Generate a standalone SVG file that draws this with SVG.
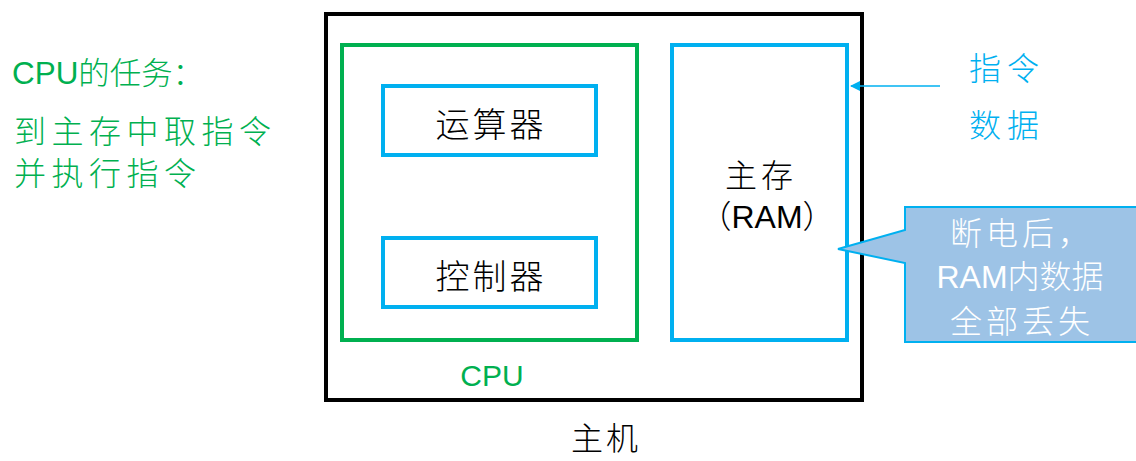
<svg xmlns="http://www.w3.org/2000/svg" width="1136" height="461" viewBox="0 0 1136 461">
<defs>
<style>
.t{font-family:"Liberation Sans","Noto Sans CJK SC",sans-serif;font-weight:300}
.g{fill:#00B050}
.b{fill:#00B0F0}
.k{fill:#000}
.w{fill:#fff}
.box{fill:none;stroke:#00B0F0;stroke-width:4}
</style>
<marker id="arr" markerWidth="10" markerHeight="10" refX="9" refY="5" orient="auto" markerUnits="userSpaceOnUse"><path d="M0,0 L10,5 L0,10 z" fill="#00B0F0"/></marker>
</defs>
<rect width="1136" height="461" fill="#fff"/>
<g id="task-text" class="t g">
<text x="12" y="84" font-size="31" textLength="192" lengthAdjust="spacingAndGlyphs">CPU的任务：</text>
<text x="14" y="143" font-size="32" letter-spacing="5.5">到主存中取指令</text>
<text x="14" y="185" font-size="32" letter-spacing="5.5">并执行指令</text>
</g>
<g id="host">
<rect x="326" y="14" width="536" height="386" fill="none" stroke="#000" stroke-width="4"/>
<text class="t k" x="606" y="450" font-size="32" text-anchor="middle" letter-spacing="3">主机</text>
</g>
<g id="cpu">
<rect x="342" y="45" width="295" height="295" fill="none" stroke="#00B050" stroke-width="4"/>
<text class="t g" x="492" y="386" font-size="30" text-anchor="middle">CPU</text>
</g>
<g id="alu">
<rect class="box" x="383" y="86" width="213" height="69"/>
<text class="t k" x="491" y="137" font-size="34" text-anchor="middle" letter-spacing="3">运算器</text>
</g>
<g id="ctrl">
<rect class="box" x="383" y="238" width="213" height="69"/>
<text class="t k" x="491" y="289" font-size="34" text-anchor="middle" letter-spacing="3">控制器</text>
</g>
<g id="ram">
<rect class="box" x="672" y="45" width="175" height="295"/>
<text class="t k" x="761" y="187" font-size="32" text-anchor="middle" letter-spacing="4">主存</text>
<text class="t k" x="767" y="228" font-size="32" text-anchor="middle">（RAM）</text>
</g>
<g id="input-label" class="t b" font-size="32">
<text x="969" y="80" letter-spacing="6">指令</text>
<text x="969" y="137" letter-spacing="6">数据</text>
</g>
<g id="callout">
<path d="M905,207 H1140 V342 H905 V263 L838,249 L905,230 Z" fill="#9DC3E6" stroke="#00B0F0" stroke-width="2"/>
<g class="t w" font-size="32" text-anchor="middle">
<text x="1022" y="245" letter-spacing="4">断电后，</text>
<text x="1020" y="288">RAM内数据</text>
<text x="1022" y="333" letter-spacing="4">全部丢失</text>
</g>
</g>
<g id="connectors">
<line x1="940" y1="86" x2="851" y2="86" stroke="#00B0F0" stroke-width="1.5" marker-end="url(#arr)"/>
</g>
</svg>
